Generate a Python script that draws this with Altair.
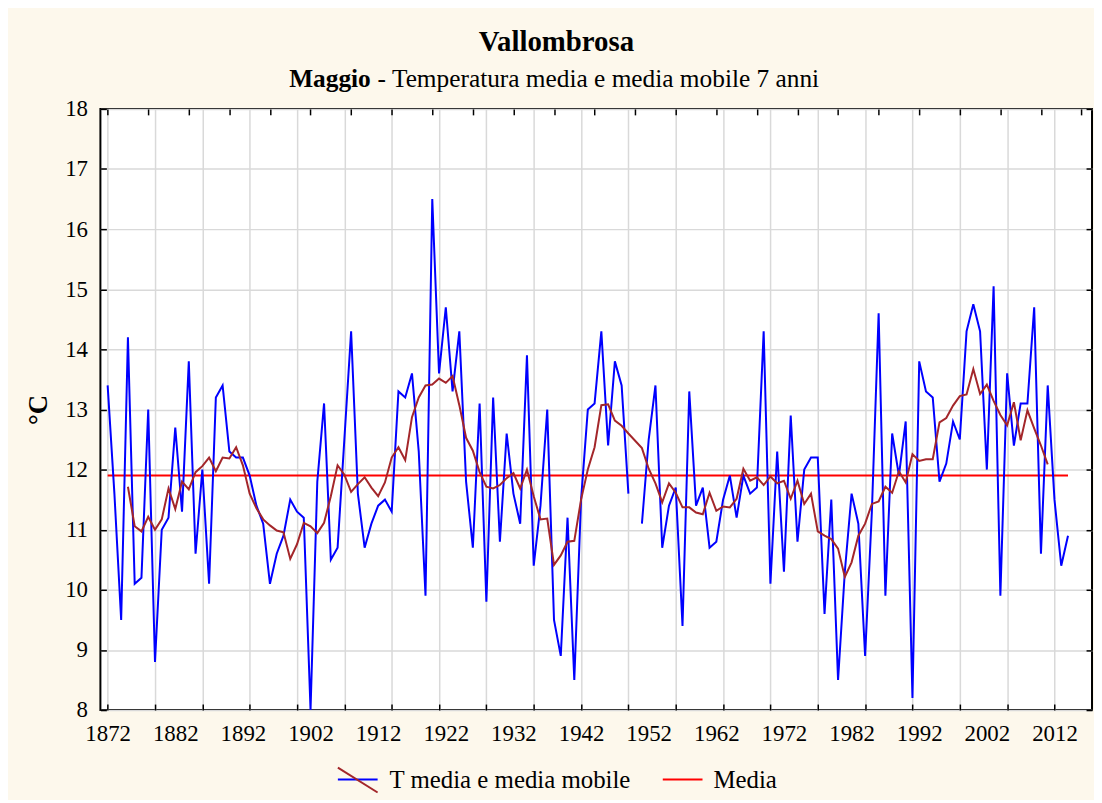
import altair as alt
import pandas as pd

# ---------------- data ----------------
years = list(range(1872, 2015))
temps = [13.4, 11.6, 9.5, 14.2, 10.1, 10.2, 13.0, 8.8, 11.0, 11.2,    # 1872-1881
         12.7, 11.3, 13.8, 10.6, 12.0, 10.1, 13.2, 13.4, 12.3, 12.2,   # 1882-1891
         12.2, 11.9, 11.4, 11.1, 10.1, 10.6, 10.9, 11.5, 11.3, 11.2,   # 1892-1901
         8.0, 11.8, 13.1, 10.5, 10.7, 12.5, 14.3, 11.6, 10.7, 11.1,    # 1902-1911
         11.4, 11.5, 11.3, 13.3, 13.2, 13.6, 12.3, 9.9, 16.5, 13.6,    # 1912-1921
         14.7, 13.3, 14.3, 11.8, 10.7, 13.1, 9.8, 13.2, 10.8, 12.6,    # 1922-1931
         11.6, 11.1, 13.9, 10.4, 11.4, 13.0, 9.5, 8.9, 11.2, 8.5,      # 1932-1941
         11.5, 13.0, 13.1, 14.3, 12.4, 13.8, 13.4, 11.6, None, 11.1,   # 1942-1951
         12.5, 13.4, 10.7, 11.4, 11.7, 9.4, 13.3, 11.4, 11.7, 10.7,    # 1952-1961
         10.8, 11.5, 11.9, 11.2, 11.9, 11.6, 11.7, 14.3, 10.1, 12.3,   # 1962-1971
         10.3, 12.9, 10.8, 12.0, 12.2, 12.2, 9.6, 11.5, 8.5, 10.3,     # 1972-1981
         11.6, 11.1, 8.9, 11.3, 14.6, 9.9, 12.6, 11.9, 12.8, 8.2,      # 1982-1991
         13.8, 13.3, 13.2, 11.8, 12.1, 12.8, 12.5, 14.3, 14.75, 14.3,  # 1992-2001
         12.0, 15.05, 9.9, 13.6, 12.4, 13.1, 13.1, 14.7, 10.6, 13.4,   # 2002-2011
         11.5, 10.4, 10.9]                                             # 2012-2014
mean_value = 11.9
ma_half = 3  # 7-year centred moving average

x_label_years = list(range(1872, 2013, 10))
x_grid_years = list(range(1872, 2013, 7))
x_top_ticks = list(range(1872, 2017, 6))
y_ticks = list(range(8, 19))

title_text = "Vallombrosa"
subtitle_bold = "Maggio"
subtitle_rest = "- Temperatura media e media mobile 7 anni"
legend_labels = ["T media e media mobile", "Media"]

# ---------------- tables ----------------
df = pd.DataFrame({"year": years, "t": temps}).dropna()
df["seg"] = (df["year"] > 1950).astype(int)
mean_df = pd.DataFrame({"year": [years[0]], "year2": [years[-1]], "m": [mean_value]})
one = pd.DataFrame({"k": [0]})

FONT = "Liberation Serif"
W, H = 998, 605
xs = alt.Scale(domain=[1870.93, 2017.55], nice=False, zero=False)
ys = alt.Scale(domain=[8, 18], nice=False, zero=False)

grid_test = "(datum.value - 1872) % 7 == 0"

x_bottom = alt.Axis(
    orient="bottom", values=sorted(set(x_grid_years + x_label_years)), format="d",
    labelExpr="(datum.value - 1872) % 10 == 0 ? datum.label : ''",
    grid=True, gridColor="#D9D9D9", gridWidth=1.5,
    gridOpacity={"condition": {"test": grid_test, "value": 1}, "value": 0},
    tickOpacity={"condition": {"test": grid_test, "value": 1}, "value": 0},
    ticks=True, tickSize=6, tickColor="black", tickWidth=1.5, offset=-6, domain=False,
    labelFont=FONT, labelFontSize=23, labelColor="black", labelPadding=13,
    labelFlush=False, labelOverlap=False, title=None)

y_left = alt.Axis(
    orient="left", values=y_ticks, format="d",
    grid=True, gridColor="#D9D9D9", gridWidth=1.5,
    ticks=True, tickSize=6, tickColor="black", tickWidth=1.5, offset=-6, domain=False,
    labelFont=FONT, labelFontSize=23, labelColor="black", labelPadding=13,
    labelOverlap=False, title="°C", titleFont=FONT, titleFontSize=27,
    titleFontWeight="bold", titleColor="black", titlePadding=12)

x_top = alt.Axis(orient="top", values=x_top_ticks, grid=False, labels=False,
                 ticks=True, tickSize=6, tickColor="black", tickWidth=1.5,
                 offset=-6, domain=False, title=None)
y_right = alt.Axis(orient="right", values=y_ticks, grid=False, labels=False,
                   ticks=True, tickSize=6, tickColor="black", tickWidth=1.5,
                   offset=-6, domain=False, title=None)

mean_layer = alt.Chart(mean_df).mark_rule(color="#FF0000", strokeWidth=2).encode(
    x=alt.X("year:Q", scale=xs, axis=None), x2="year2:Q",
    y=alt.Y("m:Q", scale=ys, axis=None))

blue_layer = alt.Chart(df).mark_line(color="#0000FF", strokeWidth=2).encode(
    x=alt.X("year:Q", scale=xs, axis=x_bottom),
    y=alt.Y("t:Q", scale=ys, axis=y_left),
    detail="seg:N")

ma_layer = alt.Chart(df).transform_window(
    ma="mean(t)", n="count(t)", frame=[-ma_half, ma_half],
    sort=[alt.SortField("year")]
).transform_filter(f"datum.n == {2 * ma_half + 1}").mark_line(
    color="#A3262A", strokeWidth=2).encode(
    x=alt.X("year:Q", scale=xs, axis=x_top),
    y=alt.Y("ma:Q", scale=ys, axis=y_right))


def txt(s, x, y, size, weight="normal", align="left"):
    return alt.Chart(one).mark_text(
        text=s, font=FONT, fontSize=size, fontWeight=weight, align=align,
        baseline="middle", color="black").encode(x=alt.value(x), y=alt.value(y))


def seg(x1, y1, x2, y2, color):
    return alt.Chart(one).mark_rule(color=color, strokeWidth=2).encode(
        x=alt.value(x1), y=alt.value(y1), x2=alt.value(x2), y2=alt.value(y2))


title_layer = txt(title_text, 459, -67, 29, "bold", "center")
sub1 = txt(subtitle_bold, 190, -30, 25.5, "bold")
sub2 = txt(subtitle_rest, 279, -30, 25.5)

leg_blue = seg(239, 675, 279, 675, "#0000FF")
leg_ma = seg(239, 663, 279, 688, "#A3262A")
leg_txt1 = txt(legend_labels[0], 291, 675, 25)
leg_red = seg(566, 675, 606, 675, "#FF0000")
leg_txt2 = txt(legend_labels[1], 617, 675, 25)

chart = alt.layer(
    mean_layer, blue_layer, ma_layer,
    title_layer, sub1, sub2, leg_blue, leg_ma, leg_txt1, leg_red, leg_txt2
).resolve_scale(x="shared", y="shared").resolve_axis(
    x="independent", y="independent"
).properties(
    width=W, height=H,
    autosize=alt.AutoSizeParams(type="none"),
    padding={"left": 93, "top": 99, "right": 2, "bottom": 88},
    background="#FDF8EC",
).configure_view(fill="white", stroke="black", strokeWidth=2)

chart.save("out.html", embed_options={"renderer": "svg", "actions": False})
